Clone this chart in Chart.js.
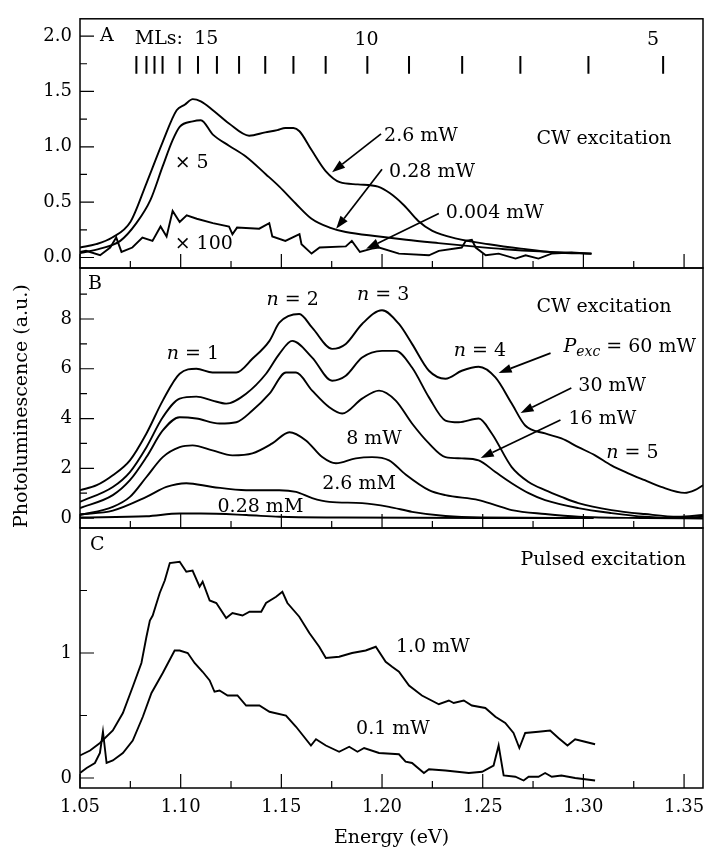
<!DOCTYPE html>
<html>
<head>
<meta charset="utf-8">
<script src="https://cdn.jsdelivr.net/npm/chart.js@4.4.1/dist/chart.umd.min.js"></script>
<style>
  html, body { margin: 0; padding: 0; background: #fff; }
  #wrap { position: relative; width: 705px; height: 851px; }
  #wrap canvas { position: absolute; left: 0; top: 0; }
</style>
</head>
<body>
<div id="wrap">
  <canvas id="panelA" width="705" height="851"></canvas>
  <canvas id="panelB" width="705" height="851"></canvas>
  <canvas id="panelC" width="705" height="851"></canvas>
</div>
<script>
const SERIF = '"DejaVu Serif", "Liberation Serif", serif';
const FS = 18;   // tick labels
const FA = 19;   // annotations and axis titles

// ---- panel A : CW excitation, low power ----
const energyA26 = [1.050, 1.058, 1.066, 1.075, 1.083, 1.091, 1.098, 1.102, 1.106, 1.110, 1.116, 1.124, 1.134, 1.142, 1.148, 1.152, 1.156, 1.159, 1.165, 1.172, 1.179, 1.188, 1.198, 1.204, 1.211, 1.218, 1.225, 1.237, 1.253, 1.269, 1.286, 1.304];
const plA26 = [0.09, 0.12, 0.18, 0.32, 0.67, 1.04, 1.33, 1.38, 1.43, 1.41, 1.33, 1.21, 1.10, 1.13, 1.15, 1.17, 1.17, 1.14, 0.97, 0.78, 0.68, 0.66, 0.64, 0.58, 0.47, 0.33, 0.24, 0.17, 0.12, 0.08, 0.045, 0.035];

const energyA028 = [1.050, 1.060, 1.070, 1.078, 1.085, 1.091, 1.096, 1.0995, 1.106, 1.110, 1.116, 1.124, 1.1325, 1.1424, 1.149, 1.157, 1.165, 1.174, 1.182, 1.1985, 1.212, 1.228, 1.245, 1.261, 1.278, 1.304];
const plA028 = [0.04, 0.08, 0.15, 0.31, 0.52, 0.82, 1.06, 1.18, 1.23, 1.24, 1.11, 1.01, 0.91, 0.75, 0.64, 0.49, 0.35, 0.27, 0.23, 0.19, 0.16, 0.13, 0.10, 0.075, 0.055, 0.035];

const energyA0004 = [1.050, 1.053, 1.060, 1.065, 1.068, 1.0706, 1.076, 1.081, 1.086, 1.090, 1.093, 1.096, 1.0995, 1.103, 1.108, 1.116, 1.124, 1.1257, 1.128, 1.139, 1.144, 1.1455, 1.152, 1.159, 1.160, 1.165, 1.169, 1.182, 1.185, 1.189, 1.195, 1.1985, 1.2084, 1.2233, 1.2282, 1.2396, 1.2416, 1.2446, 1.2465, 1.2515, 1.2579, 1.2663, 1.2713, 1.2777, 1.2842, 1.2941, 1.304];
const plA0004 = [0.05, 0.06, 0.02, 0.09, 0.18, 0.05, 0.09, 0.18, 0.15, 0.28, 0.19, 0.42, 0.32, 0.38, 0.35, 0.31, 0.28, 0.21, 0.27, 0.26, 0.31, 0.19, 0.15, 0.21, 0.12, 0.035, 0.09, 0.10, 0.15, 0.05, 0.08, 0.09, 0.035, 0.02, 0.06, 0.09, 0.15, 0.16, 0.09, 0.02, 0.035, -0.01, 0.02, -0.01, 0.035, 0.045, 0.035];

// monolayer positions marked at the top of panel A
const mlEnergies = [1.078, 1.083, 1.087, 1.091, 1.0995, 1.1086, 1.118, 1.129, 1.142, 1.156, 1.172, 1.1927, 1.2134, 1.2398, 1.2687, 1.3025, 1.3396];

// ---- panel B : CW excitation, high power ----
const energyB60 = [1.050, 1.0583, 1.0663, 1.0748, 1.083, 1.0911, 1.0995, 1.1078, 1.1158, 1.1276, 1.1356, 1.1441, 1.149, 1.1589, 1.1653, 1.1752, 1.182, 1.1901, 1.200, 1.2084, 1.2149, 1.2233, 1.2315, 1.2396, 1.248, 1.2563, 1.2644, 1.2711, 1.281, 1.2891, 1.2975, 1.3058, 1.3139, 1.3223, 1.3305, 1.3386, 1.3503, 1.3553, 1.3594];
const plB60 = [1.12, 1.32, 1.72, 2.32, 3.40, 4.72, 5.80, 6.00, 5.85, 5.85, 6.40, 7.12, 7.85, 8.20, 7.65, 6.80, 7.00, 7.80, 8.35, 7.80, 7.00, 5.92, 5.60, 5.92, 6.08, 5.65, 4.60, 3.72, 3.40, 3.20, 2.85, 2.52, 2.12, 1.80, 1.52, 1.25, 1.01, 1.12, 1.32];

const energyB30 = [1.050, 1.0663, 1.0748, 1.083, 1.0911, 1.0995, 1.1078, 1.1158, 1.1226, 1.1325, 1.1424, 1.149, 1.1554, 1.1653, 1.1752, 1.182, 1.1901, 1.200, 1.2068, 1.2149, 1.2233, 1.2315, 1.2381, 1.248, 1.2545, 1.2644, 1.2728, 1.281, 1.2891, 1.2975, 1.3139, 1.3305, 1.347, 1.3594];
const plB30 = [0.65, 1.25, 1.85, 2.85, 4.05, 4.80, 4.88, 4.72, 4.60, 5.00, 5.80, 6.60, 7.12, 6.45, 5.52, 5.72, 6.45, 6.72, 6.72, 6.05, 4.85, 3.92, 3.85, 4.00, 3.40, 2.05, 1.45, 1.12, 0.85, 0.60, 0.32, 0.16, 0.05, 0.12];

const energyB16 = [1.050, 1.0663, 1.0748, 1.083, 1.0911, 1.0995, 1.1078, 1.1193, 1.1276, 1.1356, 1.1441, 1.1523, 1.1573, 1.1653, 1.1738, 1.1802, 1.1901, 1.1985, 1.2068, 1.2149, 1.2233, 1.2315, 1.2396, 1.248, 1.2563, 1.2644, 1.2728, 1.281, 1.2975, 1.3139, 1.3305, 1.347, 1.3594];
const plB16 = [0.40, 0.92, 1.52, 2.45, 3.52, 4.05, 4.00, 3.80, 3.85, 4.32, 5.00, 5.85, 5.85, 5.12, 4.45, 4.20, 4.80, 5.12, 4.72, 3.80, 3.00, 2.45, 2.40, 2.32, 1.85, 1.40, 1.00, 0.72, 0.40, 0.20, 0.05, 0.00, 0.05];

const energyB8 = [1.050, 1.0663, 1.0748, 1.083, 1.0911, 1.0995, 1.1059, 1.1158, 1.1257, 1.1356, 1.1455, 1.154, 1.1622, 1.1703, 1.1771, 1.187, 1.195, 1.2035, 1.2117, 1.2233, 1.2315, 1.248, 1.2563, 1.2644, 1.281, 1.2975, 1.3305, 1.3594];
const plB8 = [0.12, 0.45, 0.85, 1.65, 2.45, 2.85, 2.92, 2.72, 2.52, 2.60, 3.00, 3.45, 3.12, 2.45, 2.20, 2.40, 2.45, 2.32, 1.75, 1.12, 0.92, 0.72, 0.52, 0.32, 0.16, 0.05, 0.00, -0.02];

const energyB26 = [1.050, 1.0663, 1.083, 1.0929, 1.1028, 1.1158, 1.1325, 1.149, 1.1573, 1.1653, 1.1738, 1.1901, 1.2035, 1.2149, 1.2315, 1.2495, 1.305];
const plB26 = [0.15, 0.30, 0.85, 1.25, 1.40, 1.25, 1.12, 1.12, 1.05, 0.80, 0.65, 0.60, 0.45, 0.25, 0.08, 0.02, 0.00];

const energyB028 = [1.050, 1.083, 1.0995, 1.110, 1.1325, 1.149, 1.180, 1.250, 1.305];
const plB028 = [0.02, 0.07, 0.18, 0.18, 0.12, 0.05, 0.02, 0.00, 0.00];

// ---- panel C : pulsed excitation ----
const energyC10 = [1.050, 1.055, 1.0599, 1.0663, 1.0713, 1.0762, 1.0805, 1.083, 1.0847, 1.0861, 1.0896, 1.0921, 1.0946, 1.0995, 1.1028, 1.1059, 1.1094, 1.1109, 1.1144, 1.1177, 1.1226, 1.1257, 1.1307, 1.1342, 1.140, 1.1424, 1.1474, 1.1505, 1.153, 1.1589, 1.1639, 1.1688, 1.1721, 1.1787, 1.1851, 1.1919, 1.1969, 1.2018, 1.205, 1.2084, 1.2134, 1.2198, 1.2282, 1.2332, 1.2356, 1.2406, 1.2446, 1.2513, 1.2563, 1.2612, 1.2653, 1.2682, 1.2711, 1.2777, 1.2835, 1.2876, 1.2921, 1.2959, 1.3008, 1.3058];
const plC10 = [0.18, 0.22, 0.28, 0.38, 0.52, 0.73, 0.92, 1.13, 1.26, 1.30, 1.48, 1.58, 1.72, 1.73, 1.65, 1.66, 1.53, 1.57, 1.42, 1.40, 1.28, 1.32, 1.30, 1.33, 1.33, 1.40, 1.45, 1.49, 1.40, 1.29, 1.16, 1.05, 0.96, 0.97, 1.00, 1.02, 1.05, 0.93, 0.89, 0.85, 0.74, 0.66, 0.59, 0.62, 0.60, 0.62, 0.58, 0.56, 0.49, 0.44, 0.36, 0.24, 0.36, 0.37, 0.38, 0.32, 0.26, 0.31, 0.29, 0.27];

const energyC01 = [1.050, 1.0533, 1.0574, 1.0599, 1.0614, 1.0632, 1.0663, 1.0713, 1.0762, 1.0812, 1.0855, 1.0911, 1.097, 1.0995, 1.1035, 1.1069, 1.1109, 1.1144, 1.1168, 1.1193, 1.1233, 1.1282, 1.1325, 1.1391, 1.1441, 1.1523, 1.1573, 1.1647, 1.1672, 1.1721, 1.1787, 1.1837, 1.1878, 1.1911, 1.1985, 1.2084, 1.2117, 1.2149, 1.2208, 1.2233, 1.2315, 1.2431, 1.2497, 1.2554, 1.2579, 1.2604, 1.2662, 1.2703, 1.2728, 1.2777, 1.281, 1.2843, 1.2891, 1.2959, 1.3058];
const plC01 = [0.04, 0.08, 0.12, 0.20, 0.37, 0.12, 0.14, 0.20, 0.30, 0.49, 0.68, 0.84, 1.02, 1.02, 1.00, 0.92, 0.85, 0.78, 0.69, 0.70, 0.66, 0.66, 0.58, 0.58, 0.53, 0.50, 0.41, 0.26, 0.31, 0.26, 0.21, 0.25, 0.21, 0.24, 0.20, 0.19, 0.13, 0.12, 0.04, 0.07, 0.06, 0.04, 0.05, 0.10, 0.26, 0.02, 0.01, -0.02, 0.01, 0.01, 0.04, 0.01, 0.02, 0.00, -0.02];

// axes
const xMin = 1.05, xMax = 1.3594;
const xMajor = [1.05, 1.10, 1.15, 1.20, 1.25, 1.30, 1.35];
const xMinor = [1.075, 1.125, 1.175, 1.225, 1.275, 1.325];
const yTicksA = [0, 0.5, 1.0, 1.5, 2.0];
const yMinorA = [0.25, 0.75, 1.25, 1.75];
const yTicksB = [0, 2, 4, 6, 8];
const yMinorB = [1, 3, 5, 7, 9];
const yTicksC = [0, 1];
const yMinorC = [0.5, 1.5];

function pts(xs, ys) { return xs.map((x, i) => ({ x: x, y: ys[i] })); }
// smooth = the spectrum is dense and smooth in the original, noisy ones stay straight segments
function line(xs, ys, smooth) {
  const ds = { data: pts(xs, ys), borderColor: '#000', borderWidth: 1.9, pointRadius: 0, tension: 0, fill: false };
  if (smooth) ds.cubicInterpolationMode = 'monotone';
  return ds;
}

function fontFor(kind) {
  if (kind === 'i') return 'italic ' + FA + 'px ' + SERIF;
  if (kind === 'sub') return 'italic 14px ' + SERIF;
  return FA + 'px ' + SERIF;
}

function drawRich(ctx, x, y, parts, align) {
  let w = 0;
  parts.forEach(p => { ctx.font = fontFor(p[1]); w += ctx.measureText(p[0]).width; });
  let cx = align === 'center' ? x - w / 2 : x;
  parts.forEach(p => {
    ctx.font = fontFor(p[1]);
    ctx.fillText(p[0], cx, y + (p[1] === 'sub' ? 5 : 0));
    cx += ctx.measureText(p[0]).width;
  });
}

function drawArrow(ctx, x1, y1, x2, y2) {
  const ang = Math.atan2(y2 - y1, x2 - x1);
  const hl = 13, hw = 4.5;
  const bx = x2 - hl * Math.cos(ang), by = y2 - hl * Math.sin(ang);
  ctx.beginPath();
  ctx.moveTo(x1, y1);
  ctx.lineTo(bx, by);
  ctx.lineWidth = 1.7;
  ctx.stroke();
  ctx.beginPath();
  ctx.moveTo(x2, y2);
  ctx.lineTo(bx + hw * Math.sin(ang), by - hw * Math.cos(ang));
  ctx.lineTo(bx - hw * Math.sin(ang), by + hw * Math.cos(ang));
  ctx.closePath();
  ctx.fill();
}

// frame, inward ticks, annotations
const decor = {
  id: 'decor',
  afterDatasetsDraw(chart, args, opts) {
    const { ctx, chartArea: a } = chart;
    const xs = chart.scales.x, ys = chart.scales.y;
    ctx.save();
    ctx.strokeStyle = '#000';
    ctx.fillStyle = '#000';
    ctx.lineWidth = 1.2;
    ctx.beginPath();
    xMajor.forEach(v => { const p = xs.getPixelForValue(v); ctx.moveTo(p, a.bottom); ctx.lineTo(p, a.bottom - 14); });
    xMinor.forEach(v => { const p = xs.getPixelForValue(v); ctx.moveTo(p, a.bottom); ctx.lineTo(p, a.bottom - 7); });
    opts.yMajor.forEach(v => { const p = ys.getPixelForValue(v); ctx.moveTo(a.left, p); ctx.lineTo(a.left + 14, p); });
    opts.yMinor.forEach(v => { const p = ys.getPixelForValue(v); ctx.moveTo(a.left, p); ctx.lineTo(a.left + 7, p); });
    ctx.stroke();
    ctx.lineWidth = 1.5;
    ctx.strokeRect(a.left, a.top, a.right - a.left, a.bottom - a.top);

    if (opts.ml) {
      ctx.lineWidth = 2;
      ctx.beginPath();
      opts.ml.forEach(v => {
        const p = xs.getPixelForValue(v);
        ctx.moveTo(p, ys.getPixelForValue(1.82));
        ctx.lineTo(p, ys.getPixelForValue(1.66));
      });
      ctx.stroke();
    }
    (opts.arrows || []).forEach(r => {
      drawArrow(ctx, xs.getPixelForValue(r[0]), ys.getPixelForValue(r[1]), xs.getPixelForValue(r[2]), ys.getPixelForValue(r[3]));
    });
    ctx.textBaseline = 'middle';
    ctx.textAlign = 'left';
    (opts.labels || []).forEach(l => {
      drawRich(ctx, xs.getPixelForValue(l.x), ys.getPixelForValue(l.y), l.parts, l.align);
    });
    ctx.restore();
  }
};

function makePanel(id, cfg) {
  const tickFont = { family: SERIF, size: FS };
  const titleFont = { family: SERIF, size: FA };
  const xScale = { type: 'linear', min: xMin, max: xMax, display: false };
  if (cfg.showX) {
    Object.assign(xScale, {
      display: true,
      afterFit: s => { s.height = 63; s.paddingLeft = 0; s.paddingRight = 0; },
      afterBuildTicks: s => { s.ticks = xMajor.map(v => ({ value: v })); },
      ticks: { callback: v => v.toFixed(2), font: tickFont, color: '#000', padding: 9, maxRotation: 0, autoSkip: false },
      grid: { display: false, drawTicks: false },
      border: { display: false },
      title: { display: true, text: 'Energy (eV)', font: titleFont, color: '#000', padding: { top: 0, bottom: 2 } }
    });
  }
  const yScale = {
    type: 'linear', min: cfg.yMin, max: cfg.yMax,
    afterFit: s => { s.width = 80; },
    afterBuildTicks: s => { s.ticks = cfg.yMajor.map(v => ({ value: v })); },
    ticks: { callback: cfg.fmt, font: tickFont, color: '#000', padding: 8 },
    grid: { display: false, drawTicks: false },
    border: { display: false }
  };
  if (cfg.yTitle) {
    yScale.title = { display: true, text: cfg.yTitle, align: 'start', font: titleFont, color: '#000', padding: { top: 11, bottom: 0 } };
  }
  return new Chart(document.getElementById(id), {
    type: 'line',
    data: { datasets: cfg.datasets },
    options: {
      responsive: false,
      animation: false,
      layout: { padding: { left: 0, right: 2, top: cfg.top, bottom: cfg.bottom } },
      scales: { x: xScale, y: yScale },
      plugins: {
        legend: { display: false },
        tooltip: { enabled: false },
        decor: { yMajor: cfg.yMajor, yMinor: cfg.yMinor, ml: cfg.ml, labels: cfg.labels, arrows: cfg.arrows }
      }
    },
    plugins: [decor]
  });
}

makePanel('panelA', {
  top: 8, bottom: 851 - 268,
  yMin: -0.095, yMax: 2.156, yMajor: yTicksA, yMinor: yMinorA, fmt: v => v.toFixed(1),
  datasets: [line(energyA26, plA26, true), line(energyA028, plA028, true), line(energyA0004, plA0004, false)],
  ml: mlEnergies,
  labels: [
    { x: 1.0599, y: 2.0, parts: [['A', 'r']] },
    { x: 1.0772, y: 1.974, parts: [['MLs:', 'r']] },
    { x: 1.1127, y: 1.974, parts: [['15', 'r']], align: 'center' },
    { x: 1.1923, y: 1.966, parts: [['10', 'r']], align: 'center' },
    { x: 1.3346, y: 1.966, parts: [['5', 'r']], align: 'center' },
    { x: 1.2767, y: 1.074, parts: [['CW excitation', 'r']] },
    { x: 1.2010, y: 1.100, parts: [['2.6 mW', 'r']] },
    { x: 1.2035, y: 0.770, parts: [['0.28 mW', 'r']] },
    { x: 1.2317, y: 0.400, parts: [['0.004 mW', 'r']] },
    { x: 1.0970, y: 0.857, parts: [['\u00d7 5', 'r']] },
    { x: 1.0970, y: 0.121, parts: [['\u00d7 100', 'r']] }
  ],
  arrows: [
    [1.1995, 1.117, 1.1752, 0.771],
    [1.2000, 0.797, 1.1772, 0.260],
    [1.2282, 0.398, 1.1921, 0.078]
  ]
});

makePanel('panelB', {
  top: 268, bottom: 851 - 528,
  yMin: -0.40, yMax: 10.05, yMajor: yTicksB, yMinor: yMinorB, fmt: v => String(v),
  yTitle: 'Photoluminescence (a.u.)',
  datasets: [line(energyB60, plB60, true), line(energyB30, plB30, true), line(energyB16, plB16, true), line(energyB8, plB8, true), line(energyB26, plB26, true), line(energyB028, plB028, true)],
  labels: [
    { x: 1.0540, y: 9.41, parts: [['B', 'r']] },
    { x: 1.0931, y: 6.59, parts: [['n', 'i'], [' = 1', 'r']] },
    { x: 1.1426, y: 8.76, parts: [['n', 'i'], [' = 2', 'r']] },
    { x: 1.1876, y: 8.96, parts: [['n', 'i'], [' = 3', 'r']] },
    { x: 1.2767, y: 8.48, parts: [['CW excitation', 'r']] },
    { x: 1.2356, y: 6.71, parts: [['n', 'i'], [' = 4', 'r']] },
    { x: 1.2901, y: 6.87, parts: [['P', 'i'], ['exc', 'sub'], [' = 60 mW', 'r']] },
    { x: 1.2975, y: 5.31, parts: [['30 mW', 'r']] },
    { x: 1.2926, y: 3.98, parts: [['16 mW', 'r']] },
    { x: 1.1822, y: 3.18, parts: [['8 mW', 'r']] },
    { x: 1.1703, y: 1.37, parts: [['2.6 mM', 'r']] },
    { x: 1.1183, y: 0.44, parts: [['0.28 mM', 'r']] },
    { x: 1.3114, y: 2.61, parts: [['n', 'i'], [' = 5', 'r']] }
  ],
  arrows: [
    [1.2837, 6.63, 1.2579, 5.83],
    [1.2940, 5.23, 1.2688, 4.22],
    [1.2886, 3.94, 1.2490, 2.41]
  ]
});

makePanel('panelC', {
  top: 528, bottom: 0, showX: true,
  yMin: -0.08, yMax: 2.0, yMajor: yTicksC, yMinor: yMinorC, fmt: v => String(v),
  datasets: [line(energyC10, plC10, false), line(energyC01, plC01, false)],
  labels: [
    { x: 1.0550, y: 1.864, parts: [['C', 'r']] },
    { x: 1.2688, y: 1.744, parts: [['Pulsed excitation', 'r']] },
    { x: 1.2069, y: 1.048, parts: [['1.0 mW', 'r']] },
    { x: 1.1871, y: 0.392, parts: [['0.1 mW', 'r']] }
  ]
});
</script>
</body>
</html>
